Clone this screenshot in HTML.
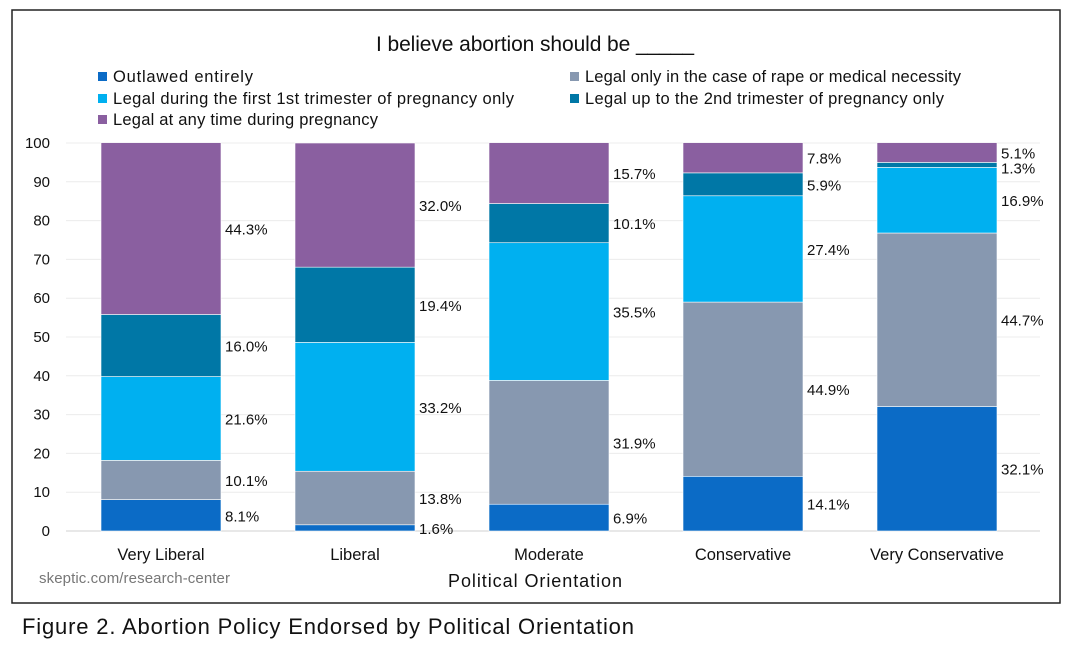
<!DOCTYPE html>
<html><head><meta charset="utf-8"><style>
body{margin:0;background:#fff;width:1072px;height:648px;overflow:hidden}
svg{display:block;font-family:"Liberation Sans",sans-serif}
</style></head><body>
<svg id="chart" width="1072" height="648">
<rect x="12" y="10" width="1048" height="593" fill="#fff" stroke="#222" stroke-width="1.5"/>
<text x="535" y="51" font-size="21" text-anchor="middle" fill="#111" textLength="318">I believe abortion should be _____</text>
<g id="legend"></g>
<g id="grid"></g>
<g id="yaxis"></g>
<g id="bars"></g>
<g id="xaxis"></g>
<text x="535" y="587" font-size="18" text-anchor="middle" fill="#111" textLength="174">Political Orientation</text>
<text x="39" y="583" font-size="15" fill="#777" textLength="191">skeptic.com/research-center</text>
<text x="22" y="634" font-size="22" fill="#111" textLength="612">Figure 2. Abortion Policy Endorsed by Political Orientation</text>
</svg>
<script>
const categories=["Very Liberal","Liberal","Moderate","Conservative","Very Conservative"];
const seriesNames=["Outlawed entirely","Legal only in the case of rape or medical necessity","Legal during the first 1st trimester of pregnancy only","Legal up to the 2nd trimester of pregnancy only","Legal at any time during pregnancy"];
const outlawed=[8.1,1.6,6.9,14.1,32.1];
const rapeMedical=[10.1,13.8,31.9,44.9,44.7];
const firstTri=[21.6,33.2,35.5,27.4,16.9];
const secondTri=[16.0,19.4,10.1,5.9,1.3];
const anyTime=[44.3,32.0,15.7,7.8,5.1];
const yTicks=[0,10,20,30,40,50,60,70,80,90,100];
const colors=["#0b6bc6","#8798b0","#00b0f0","#0077a6","#8a5fa0"];
const series=[outlawed,rapeMedical,firstTri,secondTri,anyTime];
const NS="http://www.w3.org/2000/svg";
function y(v){return 531-v*3.88;}
function x(i){return 101+i*194;}
const bw=120;
function mk(tag,attrs,parent,txt){const e=document.createElementNS(NS,tag);for(const k in attrs)e.setAttribute(k,attrs[k]);if(txt!=null)e.textContent=txt;parent.appendChild(e);return e;}
const grid=document.getElementById('grid'),ya=document.getElementById('yaxis'),bars=document.getElementById('bars'),xa=document.getElementById('xaxis'),lg=document.getElementById('legend');
yTicks.forEach(t=>{
 const l=mk('line',{x1:66,x2:1040,y1:y(t),y2:y(t),stroke:t===0?'#d0d0d0':'#ececec','stroke-width':1},grid);
 
 
 const tx=mk('text',{x:50,y:y(t)+5,'font-size':15,'text-anchor':'end',fill:'#111'},ya,String(t));
 
 
});
const legPos=[[98,76],[570,76],[98,98],[570,98],[98,119]];
const legW=[140,376,401,359,265];
seriesNames.forEach((n,i)=>{
 const [lx,ly]=legPos[i];
 const g=mk('g',{},lg);
 
 
 mk('rect',{x:lx,y:ly-4,width:9,height:9,fill:colors[i]},g);
 mk('text',{x:lx+15,y:ly+6,'font-size':16.5,fill:'#111',textLength:legW[i]},g,n);
});
categories.forEach((c,ci)=>{
 let cum=0;const labels=[];
 series.forEach((s,si)=>{
  const v=s[ci];
  const r=mk('rect',{x:x(ci),y:y(cum+v),width:bw,height:v*3.88,fill:colors[si],stroke:'#fff','stroke-width':0.6},bars);
  
  
  labels.push({v:v,cy:y(cum+v/2)});
  cum+=v;
 });
 for(let k=labels.length-2;k>=0;k--){if(labels[k].cy-labels[k+1].cy<15)labels[k].cy=labels[k+1].cy+15;}
 labels.forEach((L,si)=>{
  const t=mk('text',{x:x(ci)+bw+4,y:L.cy+6,'font-size':15,fill:'#111'},bars,L.v.toFixed(1)+'%');
  
  
 });
 const xt=mk('text',{x:x(ci)+bw/2,y:560,'font-size':16.5,'text-anchor':'middle',fill:'#111'},xa,c);
 
 
});
</script>
</body></html>
